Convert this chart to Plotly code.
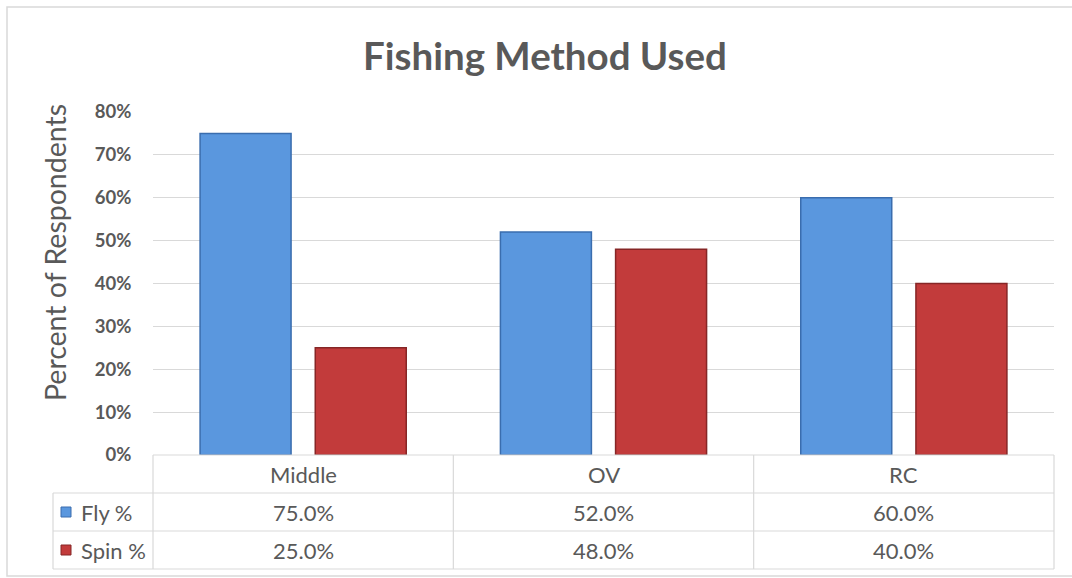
import plotly.graph_objects as go

categories = ["Middle", "OV", "RC"]
fly_pct = [0.75, 0.52, 0.60]
spin_pct = [0.25, 0.48, 0.40]
series_names = ["Fly %", "Spin %"]
y_ticks = [0, 0.1, 0.2, 0.3, 0.4, 0.5, 0.6, 0.7, 0.8]

W, H = 1072, 578
FONT = "Lato, 'Open Sans', sans-serif"
TXT = "#595959"
GRID = "#d9d9d9"
BLUE = "#5A97DE"
BLUE_EDGE = "#3A6DAE"
RED = "#C23B3B"
RED_EDGE = "#862626"

def px(x):
    return x / W

def py(y):
    return 1 - y / H

# plot area geometry (pixels)
X0, X1 = 153, 1054
Y_TOP, Y_BOT = 112, 455

fig = go.Figure()
fig.add_trace(go.Bar(x=categories, y=fly_pct, name=series_names[0],
                     marker=dict(color=BLUE, line=dict(color=BLUE_EDGE, width=1.5))))
fig.add_trace(go.Bar(x=categories, y=spin_pct, name=series_names[1],
                     marker=dict(color=RED, line=dict(color=RED_EDGE, width=1.5))))

shapes = []
# outer border
shapes.append(dict(type="rect", xref="paper", yref="paper",
                   x0=px(7), x1=px(1080), y0=py(576), y1=py(7),
                   line=dict(color="#d9d9d9", width=1.5)))
# table lines
row_h = 38
rows_y = [Y_BOT, Y_BOT + row_h, Y_BOT + 2 * row_h, Y_BOT + 3 * row_h]
TL = 53
shapes.append(dict(type="line", xref="paper", yref="paper", x0=px(X0), x1=px(X1),
                   y0=py(rows_y[0]), y1=py(rows_y[0]), line=dict(color=GRID, width=1.2)))
for yy in rows_y[1:]:
    shapes.append(dict(type="line", xref="paper", yref="paper", x0=px(TL), x1=px(X1),
                       y0=py(yy), y1=py(yy), line=dict(color=GRID, width=1.2)))
shapes.append(dict(type="line", xref="paper", yref="paper", x0=px(TL), x1=px(TL),
                   y0=py(rows_y[1]), y1=py(rows_y[3]), line=dict(color=GRID, width=1.2)))
cat_w = (X1 - X0) / len(categories)
for i in range(len(categories) + 1):
    xx = X0 + i * cat_w
    shapes.append(dict(type="line", xref="paper", yref="paper", x0=px(xx), x1=px(xx),
                       y0=py(rows_y[0]), y1=py(rows_y[3]), line=dict(color=GRID, width=1.2)))

def ann(text, x, y, size, xanchor="center", angle=0):
    return dict(text=text, x=px(x), y=py(y), xref="paper", yref="paper",
                showarrow=False, xanchor=xanchor, yanchor="middle", textangle=angle,
                font=dict(family=FONT, size=size, color=TXT))

annotations = []
annotations.append(ann("<b>Fishing Method Used</b>", 545, 55, 38.5))
annotations.append(ann("Percent of Respondents", 55, 253, 28.5, angle=-90))
for i, c in enumerate(categories):
    cx = X0 + (i + 0.5) * cat_w
    annotations.append(ann(c, cx, rows_y[0] + row_h / 2, 22))
    for r, vals in enumerate([fly_pct, spin_pct]):
        annotations.append(ann(f"{vals[i]*100:.1f}%", cx, rows_y[r + 1] + row_h / 2, 22))
key_colors = [(BLUE, BLUE_EDGE), (RED, RED_EDGE)]
for r, name in enumerate(series_names):
    yc = rows_y[r + 1] + row_h / 2
    shapes.append(dict(type="rect", xref="paper", yref="paper",
                       x0=px(61), x1=px(71), y0=py(yc + 5), y1=py(yc - 5),
                       fillcolor=key_colors[r][0], line=dict(color=key_colors[r][1], width=1)))
    annotations.append(ann(name, 79, yc, 22, xanchor="left"))

fig.update_layout(
    width=W, height=H,
    margin=dict(l=0, r=0, t=0, b=0, pad=0, autoexpand=False),
    paper_bgcolor="white", plot_bgcolor="white",
    showlegend=False,
    barmode="group", bargap=0.233, bargroupgap=0.21,
    shapes=shapes, annotations=annotations,
    xaxis=dict(domain=[px(X0), px(X1)], showticklabels=False, showgrid=False,
               zeroline=False, showline=False, ticks="", automargin=False),
    yaxis=dict(domain=[py(Y_BOT), py(Y_TOP)], range=[0, 0.8], tickvals=y_ticks,
               tickformat=".0%", showgrid=True, gridcolor=GRID, gridwidth=1.2,
               zeroline=False, showline=False, ticks="outside", ticklen=17,
               tickcolor="rgba(0,0,0,0)", automargin=False,
               tickfont=dict(family=FONT, size=18.5, color=TXT, weight="bold")),
)

fig.write_html("out.html")
